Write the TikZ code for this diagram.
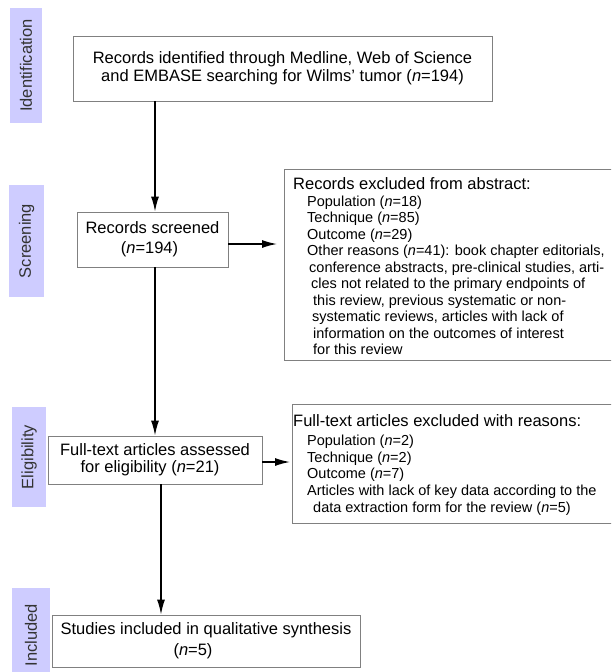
\documentclass[tikz,border=0pt]{standalone}
\usepackage{fontspec}
\setmainfont{Liberation Sans}
\usetikzlibrary{arrows.meta,calc}
\definecolor{phase}{RGB}{206,204,255}
\definecolor{boxline}{RGB}{128,128,128}
\begin{document}
\begin{tikzpicture}[x=1pt,y=-1pt,
  phasebox/.style={fill=phase,draw=none,inner sep=0pt,rotate=90,text=black!80,
    font=\fontsize{16.5}{18}\selectfont},
  flowbox/.style={draw=boxline,line width=0.9pt,fill=white,inner sep=0pt,align=center},
  exclbox/.style={draw=boxline,line width=0.9pt,inner sep=0pt,anchor=north west},
  big/.style={anchor=base west,inner sep=0pt,font=\fontsize{16.5}{18}\selectfont},
  small/.style={anchor=base west,inner sep=0pt,font=\fontsize{14.5}{16}\selectfont},
  arr/.style={line width=1.4pt,-{Latex[length=15pt,width=8pt]}}]
\useasboundingbox (0,0) rectangle (611,672);
\clip (0,0) rectangle (611,672);

% phase labels
\node[phasebox,minimum width=115pt,minimum height=32pt] (p1) at (26,65.5) {Identification};
\node[phasebox,minimum width=112pt,minimum height=35pt] (p2) at (26.5,241) {Screening};
\node[phasebox,minimum width=100pt,minimum height=34pt] (p3) at (29,457) {Eligibility};
\node[phasebox,minimum width=94pt,minimum height=38pt] (p4) at (31,635) {Included};

% main boxes
\node[flowbox,minimum width=419pt,minimum height=65pt,font=\fontsize{16.5}{18}\selectfont] (b1) at (282.5,68.5)
  {Records identified through Medline, Web of Science\\and EMBASE searching for Wilms' tumor (\textit{n}=194)};
\node[flowbox,minimum width=151pt,minimum height=55pt,font=\fontsize{16.5}{20}\selectfont] (b2) at (152.5,239.5)
  {Records screened\\(\textit{n}=194)\hspace*{6pt}};
\node[flowbox,minimum width=214pt,minimum height=48pt,font=\fontsize{16.5}{17}\selectfont] (b4) at (155,460)
  {Full-text articles assessed\\for eligibility (\textit{n}=21)\hspace*{10pt}};
\node[flowbox,minimum width=308pt,minimum height=52pt,font=\fontsize{16.5}{21}\selectfont] (b6) at (206,641)
  {Studies included in qualitative synthesis\\(\textit{n}=5)\hspace*{26pt}};

% exclusion boxes (their right edges run off the page)
\node[exclbox,minimum width=400pt,minimum height=191pt] (b3) at (284,169) {};
\node[big]   (t31) at (293,189)   {Records excluded from abstract:};
\node[small] (t32) at (307,206)   {Population (\textit{n}=18)};
\node[small] (t33) at (307,222.5) {Technique (\textit{n}=85)};
\node[small] (t34) at (307,239)   {Outcome (\textit{n}=29)};
\node[small] (t35) at (307,255.5) {Other reasons (\textit{n}=41): book chapter editorials,};
\node[small] (t36) at (309,272)   {conference abstracts, pre-clinical studies, arti-};
\node[small] (t37) at (311,288.5) {cles not related to the primary endpoints of};
\node[small] (t38) at (313,305)   {this review, previous systematic or non-};
\node[small] (t39) at (312,321.5) {systematic reviews, articles with lack of};
\node[small] (t310) at (313,338)  {information on the outcomes of interest};
\node[small] (t311) at (313,354.5){for this review};

\node[exclbox,minimum width=400pt,minimum height=119pt] (b5) at (292,404) {};
\node[big]   (t51) at (293,426) {Full-text articles excluded with reasons:};
\node[small] (t52) at (307,445) {Population (\textit{n}=2)};
\node[small] (t53) at (307,462) {Technique (\textit{n}=2)};
\node[small] (t54) at (307,478) {Outcome (\textit{n}=7)};
\node[small] (t55) at (307,495) {Articles with lack of key data according to the};
\node[small] (t56) at (313,512) {data extraction form for the review (\textit{n}=5)};

% connectors
\coordinate (ax1) at (155,0);
\coordinate (ax2) at (161,0);
\coordinate (ay1) at (0,244);
\coordinate (ay2) at (0,462);
\draw[arr] (b1.south -| ax1) -- (b2.north -| ax1);
\draw[arr] (b2.south -| ax1) -- (b4.north -| ax1);
\draw[arr] (b4.south -| ax2) -- (b6.north -| ax2);
\draw[arr,shorten >=7pt] (b2.east |- ay1) -- (b3.west |- ay1);
\draw[arr,shorten >=2pt] (b4.east |- ay2) -- (b5.west |- ay2);
\end{tikzpicture}
\end{document}
